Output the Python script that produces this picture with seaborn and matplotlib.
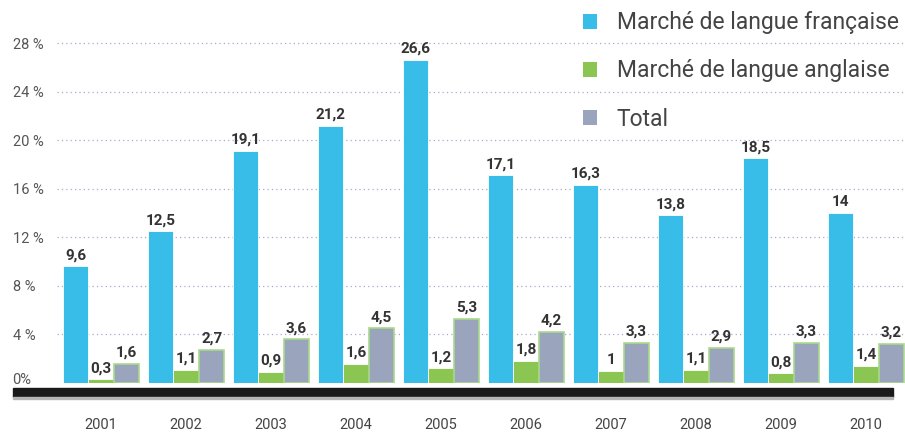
import pandas as pd
import matplotlib.pyplot as plt
import seaborn as sns
from matplotlib.patches import Patch, Rectangle
from matplotlib.transforms import offset_copy

annees = ['2001', '2002', '2003', '2004', '2005', '2006', '2007', '2008', '2009', '2010']
francais = [9.6, 12.5, 19.1, 21.2, 26.6, 17.1, 16.3, 13.8, 18.5, 14]
anglais = [0.3, 1.1, 0.9, 1.6, 1.2, 1.8, 1, 1.1, 0.8, 1.4]
total = [1.6, 2.7, 3.6, 4.5, 5.3, 4.2, 3.3, 2.9, 3.3, 3.2]
series = ['Marché de langue française', 'Marché de langue anglaise', 'Total']
couleurs = ['#38bde8', '#8bc653', '#9aa5bd']
yticks = [0, 4, 8, 12, 16, 20, 24, 28]
ytick_labels = ['0%', '4 %', '8 %', '12 %', '16 %', '20 %', '24 %', '28 %']

df = pd.DataFrame({
    'annee': annees * 3,
    'serie': [series[0]] * 10 + [series[1]] * 10 + [series[2]] * 10,
    'valeur': francais + anglais + total,
})

sns.set_style('white')
plt.rcParams['font.family'] = ['Roboto', 'DejaVu Sans']

fig = plt.figure(figsize=(9.05, 4.34), dpi=100)
W, H = 905, 434
ax = fig.add_axes([57 / W, (H - 383) / H, (W - 57) / W, 383 / H])

sns.barplot(data=df, x='annee', y='valeur', hue='serie', palette=couleurs,
            width=0.9, saturation=1, ax=ax, legend=False, zorder=3)

# bordures des barres + étiquettes
for i, cont in enumerate(ax.containers):
    for p in cont.patches:
        if i == 2:
            p.set_edgecolor('#a9d98a')
            p.set_linewidth(1.2)
        else:
            p.set_edgecolor('white')
            p.set_linewidth(0.6)
    etiquettes = [f'{v:g}'.replace('.', ',') for v in cont.datavalues]
    ax.bar_label(cont, labels=etiquettes, padding=3, fontsize=11,
                 fontweight='bold', color='#333333')

ax.set_xlim(-0.52, 9.46)
ax.set_ylim(0, 383 / 12.14)
ax.set_yticks(yticks)
ax.set_yticklabels(ytick_labels)
for y in yticks[1:]:
    ax.axhline(y, color='#a3abcc', lw=0.9, ls=(0, (1, 2.5)), zorder=1)

ax.tick_params(axis='y', length=0, pad=32, labelsize=10.5, labelcolor='#555555')
for t in ax.get_yticklabels():
    t.set_horizontalalignment('left')
# le "0%" est un peu au-dessus de la base
lab0 = ax.get_yticklabels()[0]
lab0.set_transform(offset_copy(lab0.get_transform(), fig=fig, x=0, y=5, units='dots'))
ax.tick_params(axis='x', length=0, pad=25, labelsize=10.5, labelcolor='#444444')
ax.set_xlabel('')
ax.set_ylabel('')
sns.despine(ax=ax, left=True, bottom=True, top=True, right=True)
ax.patch.set_alpha(0)

# bande noire sous l'axe
fig.patches.append(Rectangle((13 / W, (H - 397) / H), 880 / W, 9 / H,
                             transform=fig.transFigure, color='#1a1a1a', zorder=5))
fig.patches.append(Rectangle((13 / W, (H - 399) / H), 880 / W, 2 / H,
                             transform=fig.transFigure, color='#b5b5b5', zorder=5))

handles = [Patch(facecolor=c, edgecolor='none') for c in couleurs]
fig.legend(handles, series, loc='upper left', bbox_to_anchor=(574 / W, 1 - 2 / H),
           frameon=False, fontsize=16.5, labelcolor='#444444',
           handlelength=0.62, handleheight=0.62, handletextpad=0.85,
           labelspacing=1.1, borderaxespad=0)

fig.savefig('out.png', dpi=100)
